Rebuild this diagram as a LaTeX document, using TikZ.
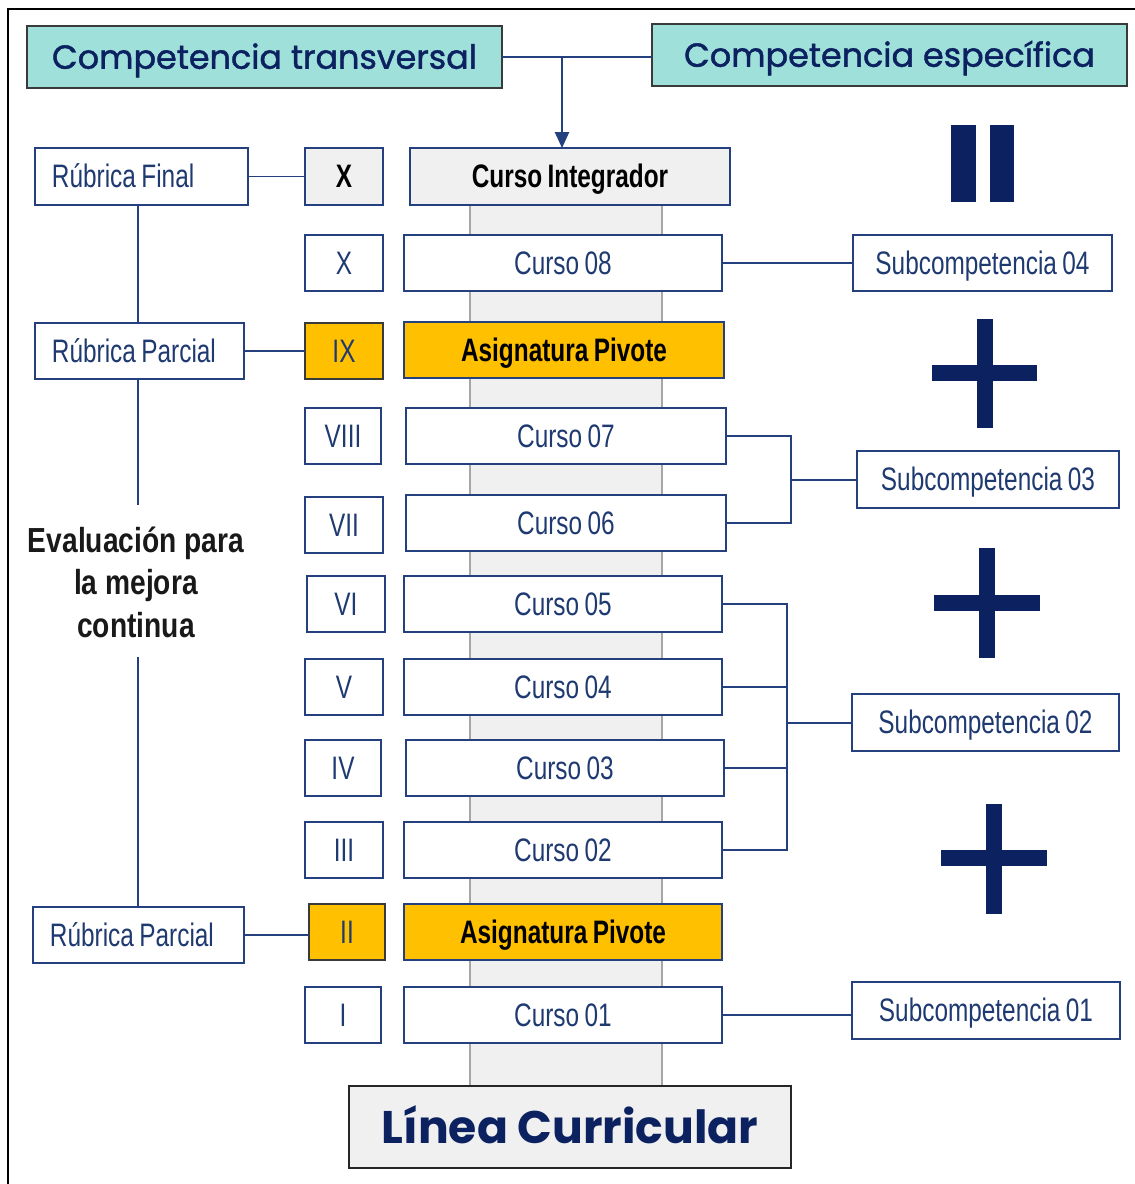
\documentclass[tikz,border=0pt]{standalone}
\usepackage{fontspec}
\setmainfont{Liberation Sans}
\newfontfamily\narrowfont[FakeStretch=0.75,WordSpace=0.8]{Liberation Sans}
\newfontfamily\evalfont[FakeStretch=0.81]{Liberation Sans}
\newfontfamily\geofont[FakeBold=1.3]{Poppins}
\newfontfamily\geofontb{Poppins}
\usetikzlibrary{arrows.meta}
\definecolor{navy}{HTML}{24407E}
\definecolor{txtnavy}{HTML}{1F3A70}
\definecolor{dnavy}{HTML}{0C2160}
\definecolor{tealfill}{HTML}{9FE1DA}
\definecolor{pivot}{HTML}{FFC000}
\definecolor{lgray}{HTML}{F0F0F0}
\definecolor{spinegray}{HTML}{A6A6A6}
\definecolor{hdrborder}{HTML}{3A3A3A}
\tikzset{
  basebox/.style={draw=navy, line width=1.1pt, fill=white, inner sep=0pt, outer sep=0pt,
    text height=13.6pt, text depth=0.6pt,
    text=txtnavy, font=\narrowfont\fontsize{18.5}{20}\selectfont},
  pivotbox/.style={basebox, fill=pivot, text=black, font=\narrowfont\bfseries\fontsize{18.5}{20}\selectfont},
  numpivot/.style={basebox, fill=pivot, draw=hdrborder, text=txtnavy},
  intbox/.style={basebox, fill=lgray, text=black, font=\narrowfont\bfseries\fontsize{18.5}{20}\selectfont},
  hdrbox/.style={draw=hdrborder, line width=1.1pt, fill=tealfill, inner sep=0pt, outer sep=0pt,
    text height=14pt, text depth=0.6pt,
    text=dnavy, font=\geofont\fontsize{19}{22}\selectfont},
  lcbox/.style={draw=black!85, line width=1.3pt, fill=lgray, inner sep=0pt, outer sep=0pt,
    text height=19pt, text depth=0.8pt,
    text=dnavy, font=\geofontb\bfseries\fontsize{26}{30}\selectfont},
  conn/.style={draw=navy, line width=1.1pt},
  symb/.style={fill=dnavy, draw=none},
}
% \bx{name}{x1}{y1}{x2}{y2}{style}{text}
\newcommand\bx[7]{\node[#6, minimum width={(#4-#2)*0.02cm}, minimum height={(#5-#3)*0.02cm}] (#1) at ({(#2+#4)/2},{(#3+#5)/2}) {#7};}
\newcommand\rubbx[6]{\node[basebox, minimum width={(#4-#2)*0.02cm}, minimum height={(#5-#3)*0.02cm}] (#1) at ({(#2+#4)/2},{(#3+#5)/2}) {\makebox[\dimexpr 0.02cm*(#4-#2)-0.68cm\relax][l]{#6}};}

\begin{document}
\begin{tikzpicture}[x=0.02cm,y=-0.02cm]
\useasboundingbox (0,0) rectangle (1134,1184);
% frame
\draw[line width=1.6pt, black] (8,1190) -- (8,9) -- (1140,9);

% spine
\fill[lgray] (470,205) rectangle (662,1086);
\draw[spinegray, line width=1.4pt] (470,205) -- (470,1086);
\draw[spinegray, line width=1.4pt] (662,205) -- (662,1086);

% headers
\bx{ct}{27}{26}{502}{88}{hdrbox}{Competencia transversal}
\bx{ce}{652}{24}{1127}{86}{hdrbox}{Competencia específica}
\bx{lc}{349}{1086}{791}{1168}{lcbox}{Línea Curricular}

% course column
\bx{ci}{410}{148}{730}{205}{intbox}{Curso Integrador}
\bx{c08}{404}{235}{722}{291}{basebox}{Curso 08}
\bx{p9}{404}{322}{724}{378}{pivotbox}{Asignatura Pivote}
\bx{c07}{406}{408}{726}{464}{basebox}{Curso 07}
\bx{c06}{406}{495}{726}{551}{basebox}{Curso 06}
\bx{c05}{404}{576}{722}{632}{basebox}{Curso 05}
\bx{c04}{404}{659}{722}{715}{basebox}{Curso 04}
\bx{c03}{406}{740}{724}{796}{basebox}{Curso 03}
\bx{c02}{404}{822}{722}{878}{basebox}{Curso 02}
\bx{p2}{404}{904}{722}{960}{pivotbox}{Asignatura Pivote}
\bx{c01}{404}{987}{722}{1043}{basebox}{Curso 01}

% roman numerals
\bx{r10b}{305}{148}{383}{205}{intbox}{X}
\bx{r10}{305}{235}{383}{291}{basebox}{X}
\bx{r9}{305}{323}{383}{379}{numpivot}{IX}
\bx{r8}{305}{408}{381}{464}{basebox}{VIII}
\bx{r7}{305}{497}{383}{553}{basebox}{VII}
\bx{r6}{307}{576}{385}{632}{basebox}{VI}
\bx{r5}{305}{659}{383}{715}{basebox}{V}
\bx{r4}{305}{740}{381}{796}{basebox}{IV}
\bx{r3}{305}{822}{383}{878}{basebox}{III}
\bx{r2}{309}{904}{385}{960}{numpivot}{II}
\bx{r1}{305}{987}{381}{1043}{basebox}{I}

% rubrics
\rubbx{rf}{35}{148}{248}{205}{Rúbrica Final}
\rubbx{rp1}{35}{323}{244}{379}{Rúbrica Parcial}
\rubbx{rp2}{33}{907}{244}{963}{Rúbrica Parcial}

% evaluation text
\node[align=center, inner sep=0pt, font=\evalfont\bfseries\fontsize{19.8}{24.2}\selectfont, text=black!90] (eval) at (136,582) {Evaluación para\\la mejora\\continua};
\coordinate (e1) at (138,505);
\coordinate (e2) at (138,657);

% subcompetencias
\bx{s04}{853}{235}{1112}{291}{basebox}{Subcompetencia 04}
\bx{s03}{857}{451}{1119}{508}{basebox}{Subcompetencia 03}
\bx{s02}{852}{694}{1119}{751}{basebox}{Subcompetencia 02}
\bx{s01}{852}{982}{1120}{1039}{basebox}{Subcompetencia 01}

% symbols
\fill[symb] (951,125) rectangle (976,202);
\fill[symb] (990,125) rectangle (1014,202);
\fill[symb] (932,365) rectangle (1037,381);
\fill[symb] (977,319) rectangle (993,428);
\fill[symb] (934,595) rectangle (1040,611);
\fill[symb] (979,548) rectangle (995,658);
\fill[symb] (941,850) rectangle (1047,866);
\fill[symb] (986,804) rectangle (1002,914);

% connectors top
\coordinate (tj) at (562,57);
\draw[conn] (ct.east) -- (ct.east -| ce.west);
\draw[conn, -{Triangle[length=9pt,width=8pt]}] (tj) -- (tj |- ci.north);

% left connectors
\draw[conn] (rf.east) -- (r10b.west);
\draw[conn] (rp1.east) -- (r9.west);
\draw[conn] (rp2.east) -- (rp2.east -| r2.west);
\draw[conn] (rf.south -| e1) -- (rp1.north -| e1);
\draw[conn] (rp1.south -| e1) -- (e1);
\draw[conn] (e2) -- (rp2.north -| e2);

% right connectors
\coordinate (b3) at (791,480);
\coordinate (b2) at (787,723);
\draw[conn] (c08.east) -- (s04.west);
\draw[conn] (c07.east) -- (c07.east -| b3) |- (c06.east);
\draw[conn] (b3) -- (b3 -| s03.west);
\draw[conn] (c05.east) -- (c05.east -| b2) |- (c02.east);
\draw[conn] (c04.east) -- (c04.east -| b2);
\draw[conn] (c03.east) -- (c03.east -| b2);
\draw[conn] (b2) -- (b2 -| s02.west);
\draw[conn] (c01.east) -- (c01.east -| s01.west);
\end{tikzpicture}
\end{document}
